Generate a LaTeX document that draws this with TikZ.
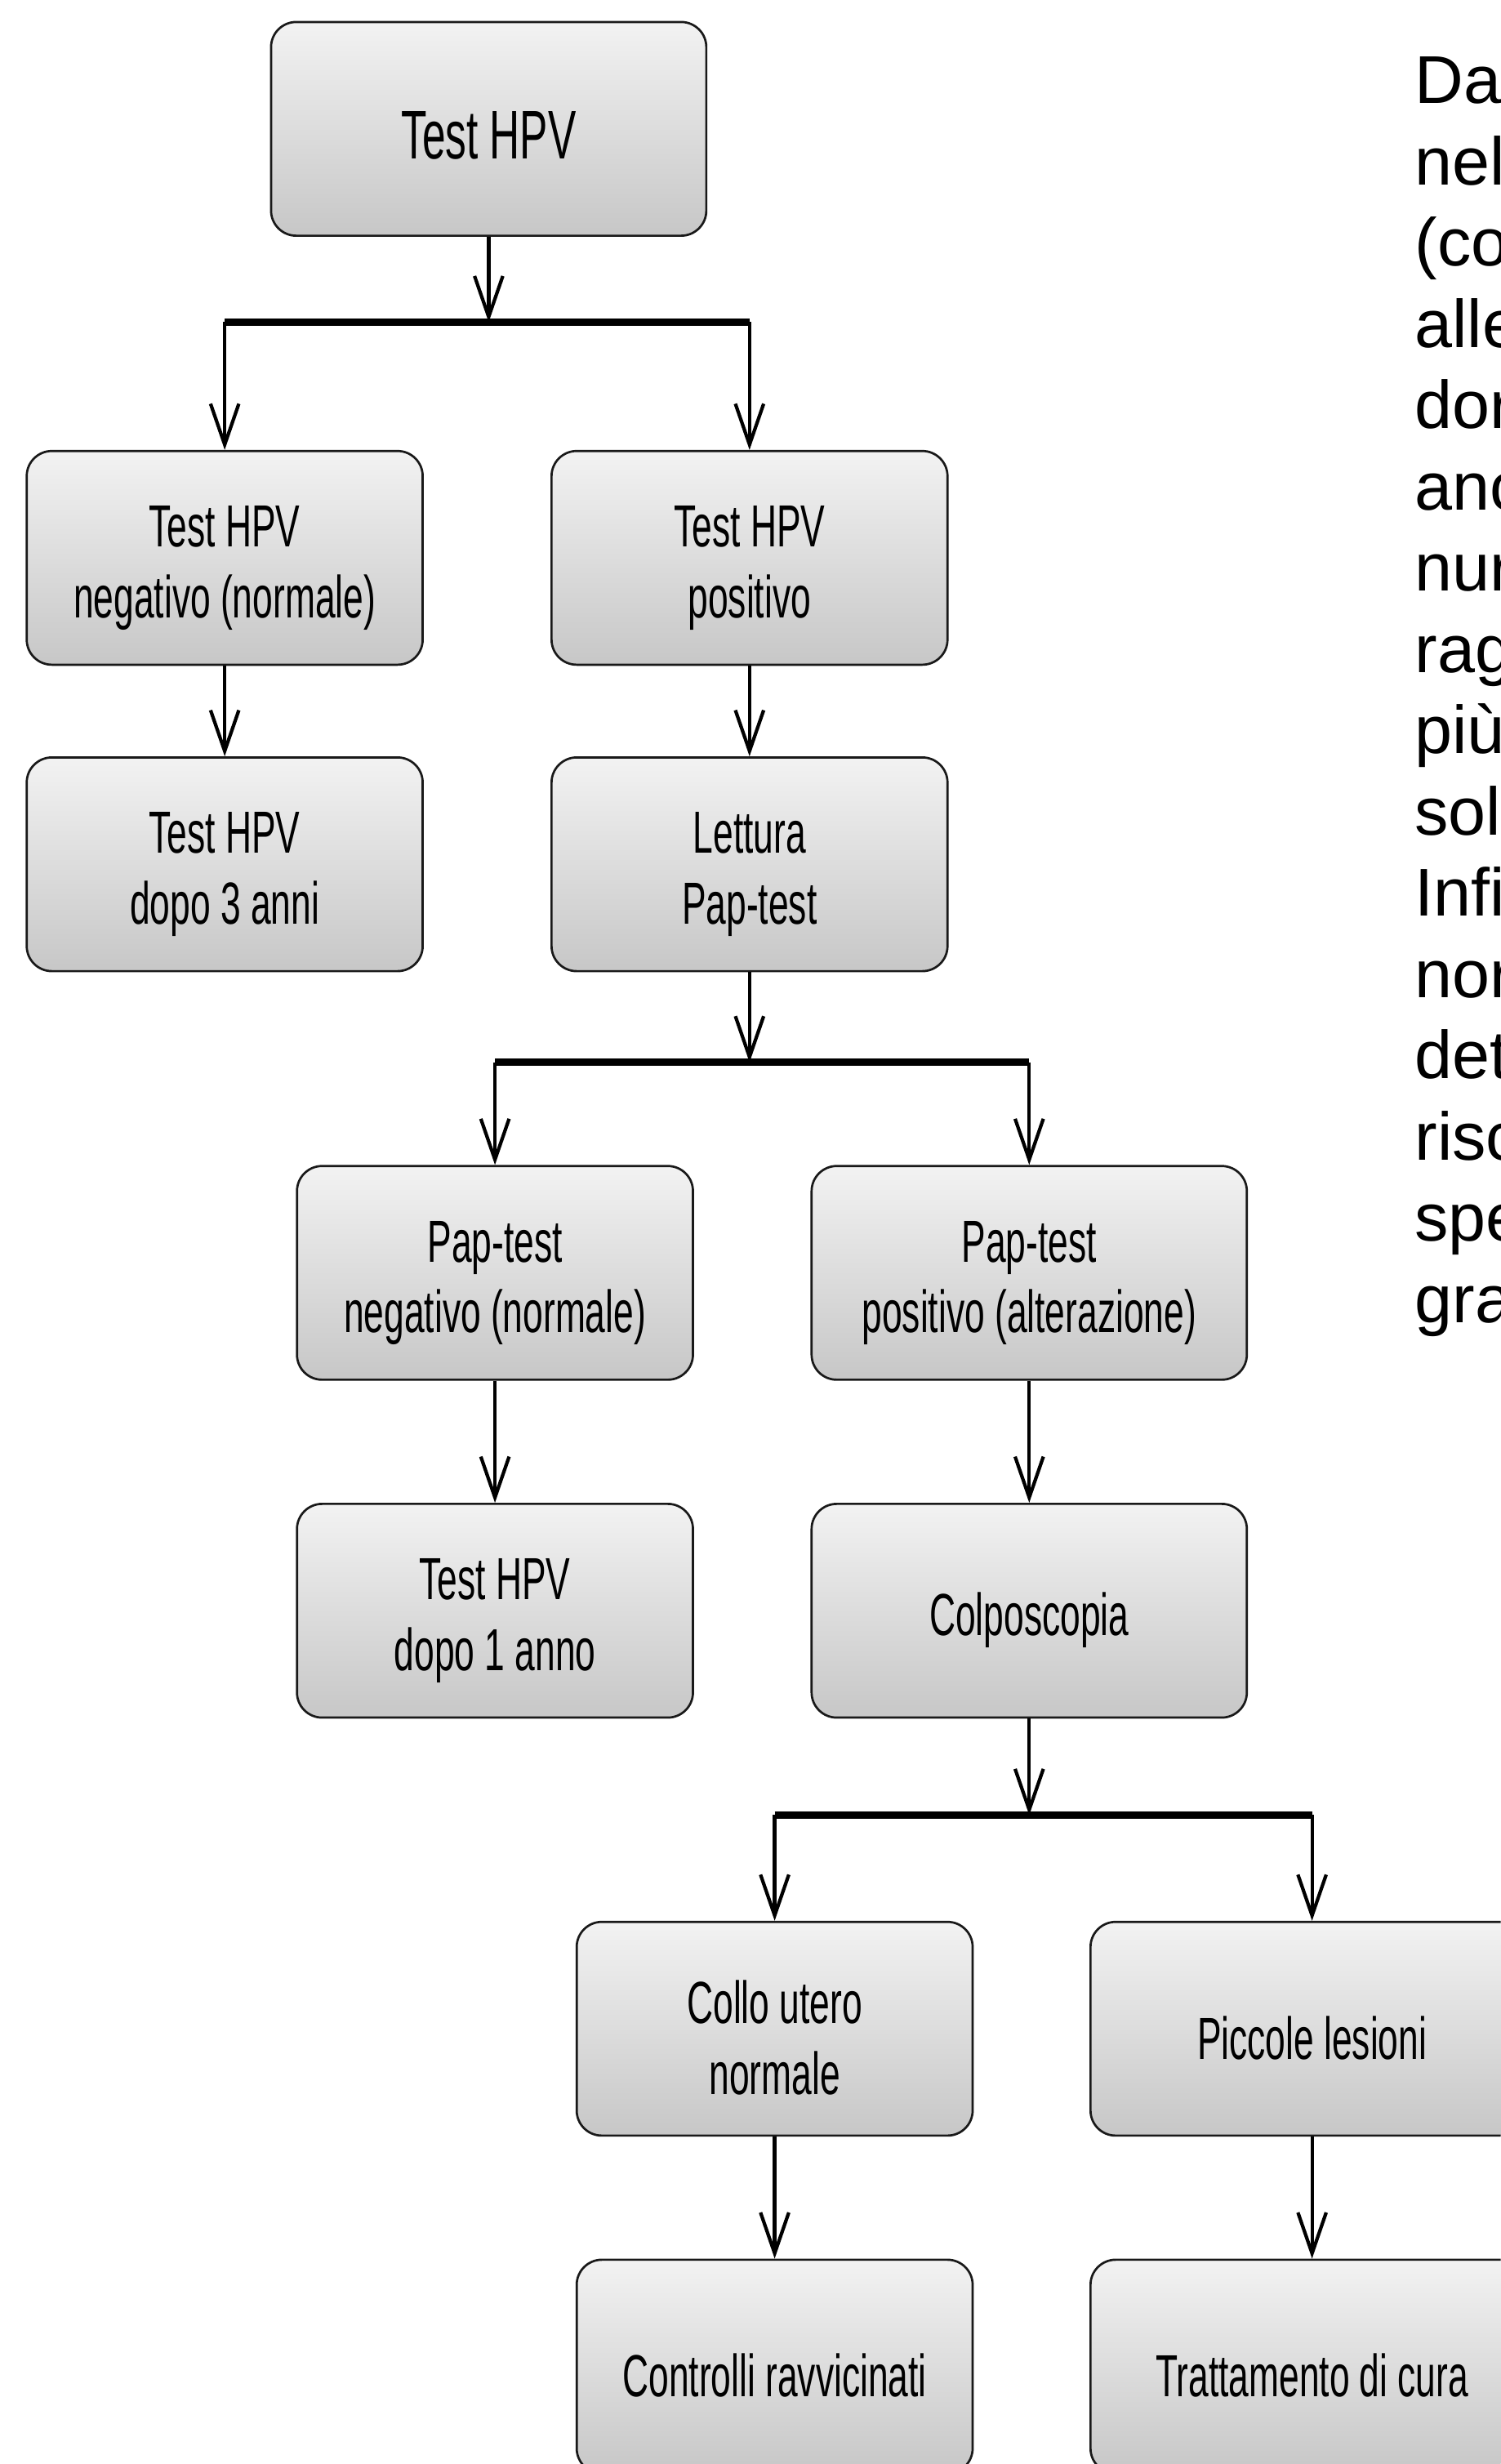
\documentclass[tikz,border=0pt]{standalone}
\usepackage{fontspec}
\setmainfont{Liberation Sans}
\newfontfamily\boxfont{Liberation Sans}[FakeStretch=0.61]
\usetikzlibrary{arrows.meta}
\newcommand{\capline}{\rule{0pt}{19.5pt}}

\begin{document}
\begin{tikzpicture}[x=0.5pt, y=-0.5pt,
	box/.style={draw=black!90, line width=0.7pt, rounded corners=8pt, top color=black!5, bottom color=black!22, minimum width=126pt, minimum height=68pt, inner sep=0pt, align=center, font=\boxfont\fontsize{18.9}{22.5}\selectfont, execute at begin node={\capline}},
	widebox/.style={box, minimum width=138.5pt},
	link/.style={line width=1.1pt, -{Straight Barb[length=13pt, width=9pt, line width=1.1pt]}},
	bar/.style={line width=2.2pt},
	sidetext/.style={anchor=base west, inner sep=0pt, font=\fontsize{21.5}{25.7}\selectfont}]
		\useasboundingbox (0,0) rectangle (955,1568);
		\clip (0,0) rectangle (955,1568);
		\fill[white] (0,0) rectangle (955,1568);
		
		%first level
		\node[widebox, font=\boxfont\fontsize{21.9}{26}\selectfont] (hpv) at (311,82) {Test HPV};
		\coordinate (j1) at (311,205);
		\coordinate (j1l) at (143,205);
		\coordinate (j1r) at (477,205);
		\node[box] (hpvneg) at (143,355) {\capline Test HPV\\negativo (normale)};
		\node[box] (hpvpos) at (477,355) {\capline Test HPV\\positivo};
		\node[box] (hpvtre) at (143,550) {\capline Test HPV\\dopo 3 anni};
		\node[box] (lettura) at (477,550) {\capline Lettura\\Pap-test};
		
		%pap-test level
		\coordinate (j2) at (477,676);
		\coordinate (j2l) at (315,676);
		\coordinate (j2r) at (655,676);
		\node[box] (papneg) at (315,810) {\capline Pap-test\\negativo (normale)};
		\node[widebox] (pappos) at (655,810) {\capline Pap-test\\positivo (alterazione)};
		\node[box] (hpvuno) at (315,1025) {\capline Test HPV\\dopo 1 anno};
		\node[widebox] (colpo) at (655,1025) {Colposcopia};
		
		%colposcopia level
		\coordinate (j3) at (655,1155);
		\coordinate (j3l) at (493,1155);
		\coordinate (j3r) at (835,1155);
		\node[box] (collo) at (493,1291) {\capline Collo utero\\normale};
		\node[box, minimum width=141pt] (lesioni) at (835,1291) {Piccole lesioni};
		\node[box] (controlli) at (493,1506) {Controlli ravvicinati};
		\node[box, minimum width=141pt] (cura) at (835,1506) {Trattamento di cura};
		
		%connectors
		\draw[link] (hpv) -- (j1);
		\draw[bar] (j1l) -- (j1r);
		\draw[link] (j1l) -- (hpvneg);
		\draw[link] (j1r) -- (hpvpos);
		\draw[link] (hpvneg) -- (hpvtre);
		\draw[link] (hpvpos) -- (lettura);
		\draw[link] (lettura) -- (j2);
		\draw[bar] (j2l) -- (j2r);
		\draw[link] (j2l) -- (papneg);
		\draw[link] (j2r) -- (pappos);
		\draw[link] (papneg) -- (hpvuno);
		\draw[link] (pappos) -- (colpo);
		\draw[link] (colpo) -- (j3);
		\draw[bar] (j3l) -- (j3r);
		\draw[link] (j3l) -- (collo);
		\draw[link] (j3r) -- (lesioni);
		\draw[link] (collo) -- (controlli);
		\draw[link] (lesioni) -- (cura);
		
		%side text
		\foreach \w [count=\i from 0] in {Da, nel, {(co}, alle, dor, anc, nur, rag, più, sol, Infi, nor, det, risc, spe, gra}{
			\node[sidetext] (side\i) at (900,{66+\i*51.7}) {\w};
		}
\end{tikzpicture}
\end{document}
